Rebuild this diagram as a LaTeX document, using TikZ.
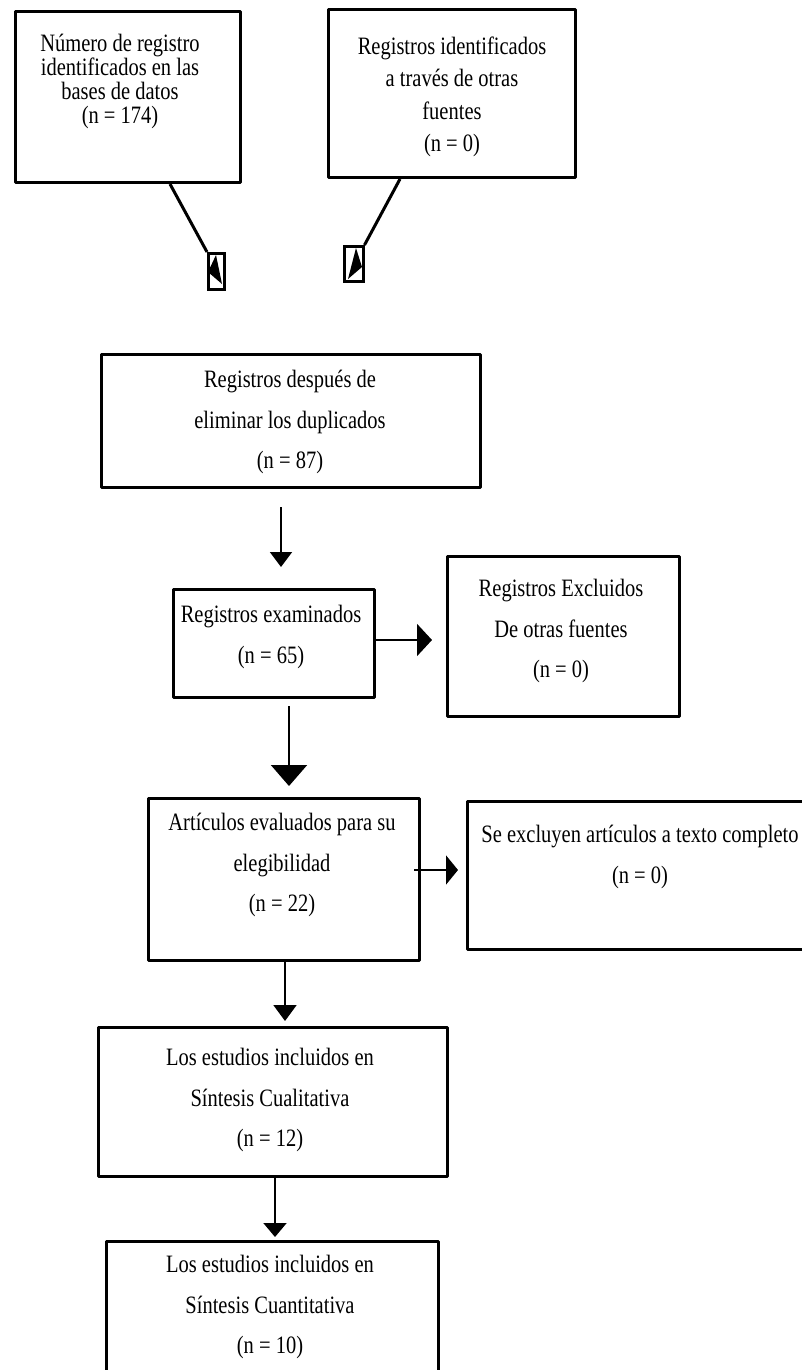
\documentclass[tikz,border=0pt]{standalone}
\usepackage{fontspec}
\setmainfont{Liberation Serif}[FakeStretch=0.82]
\usetikzlibrary{arrows.meta}
\begin{document}
\begin{tikzpicture}[x=1pt,y=-1pt,
  box/.style={draw, line width=3pt, inner sep=0pt, anchor=north west, line join=round},
  tinybox/.style={draw, line width=2.5pt, inner sep=0pt, anchor=north west},
  txt/.style={align=center, inner sep=0pt, font=\fontsize{25}{40.5}\selectfont},
  conn/.style={line width=2pt},
  diag/.style={line width=3pt}
]
\useasboundingbox (0,0) rectangle (802,1370);
\clip (0,0) rectangle (802,1370);

% boxes
\node[box, minimum width=225pt, minimum height=171pt] (b1) at (14,10) {};
\node[box, minimum width=247pt, minimum height=168pt] (b2) at (327,8) {};
\node[box, minimum width=379pt, minimum height=133pt] (b3) at (100,353) {};
\node[box, minimum width=201pt, minimum height=108pt] (b4) at (172,588) {};
\node[box, minimum width=232pt, minimum height=160pt] (b5) at (446,555) {};
\node[box, minimum width=271pt, minimum height=162pt] (b6) at (147,797) {};
\node[box, minimum width=380pt, minimum height=148pt] (b7) at (466,800) {};
\node[box, minimum width=349pt, minimum height=149pt] (b8) at (97,1026) {};
\node[box, minimum width=332pt, minimum height=200pt] (b9) at (105,1240) {};

% texts
\node[txt, font=\fontsize{25}{24}\selectfont] (t1) at (120,81)
  {Número de registro\\identificados en las\\bases de datos\\(n = 174)};
\node[txt, font=\fontsize{25}{32.5}\selectfont] (t2) at (452,97)
  {Registros identificados\\a través de otras\\fuentes\\(n = 0)};
\node[txt] (t3) at (290,422) {Registros después de\\eliminar los duplicados\\(n = 87)};
\node[txt] (t4) at (271,637) {Registros examinados\\(n = 65)};
\node[txt] (t5) at (561,631) {Registros Excluidos\\De otras fuentes\\(n = 0)};
\node[txt] (t6) at (282,865) {Artículos evaluados para su\\elegibilidad\\(n = 22)};
\node[txt] (t7) at (640,857) {Se excluyen artículos a texto completo\\(n = 0)};
\node[txt] (t8) at (270,1100) {Los estudios incluidos en\\Síntesis Cualitativa\\(n = 12)};
\node[txt] (t9) at (270,1307) {Los estudios incluidos en\\Síntesis Cuantitativa\\(n = 10)};

% small arrow boxes at the top
\node[tinybox, minimum width=16pt, minimum height=36pt] (s1) at (207,252) {};
\node[tinybox, minimum width=19pt, minimum height=35pt] (s2) at (343,245) {};
\fill (216,255) -- (208,272) -- (222,284) -- cycle;
\fill (356,248) -- (362,267) -- (348,279) -- cycle;

\coordinate (c1) at (170,0);
\coordinate (c2) at (400,0);
\draw[diag] (b1.south -| c1) -- (s1.north west);
\draw[diag] (b2.south -| c2) -- (s2.north east);

% connectors
\coordinate (x1) at (281,0);
\coordinate (x2) at (289,0);
\coordinate (x3) at (285,0);
\coordinate (x4) at (275,0);
\coordinate (y1) at (0,640);
\coordinate (y2) at (0,870);

\draw[conn, -{Triangle[length=15pt,width=22pt]}, shorten <=18pt, shorten >=21pt]
  (b3.south -| x1) -- (b4.north -| x1);
\draw[conn, -{Triangle[length=15pt,width=32pt]}, shorten >=14pt]
  (b4.east |- y1) -- (b5.west |- y1);
\draw[conn, -{Triangle[length=21pt,width=36pt]}, shorten <=7pt, shorten >=11pt]
  (b4.south -| x2) -- (b6.north -| x2);
\draw[conn, -{Triangle[length=12pt,width=29pt]}, shorten <=-7pt, shorten >=8pt]
  (b6.east |- y2) -- (b7.west |- y2);
\draw[conn, -{Triangle[length=16pt,width=23pt]}, shorten >=5pt]
  (b6.south -| x3) -- (b8.north -| x3);
\draw[conn, -{Triangle[length=14pt,width=23pt]}, shorten >=3pt]
  (b8.south -| x4) -- (b9.north -| x4);
\end{tikzpicture}
\end{document}
